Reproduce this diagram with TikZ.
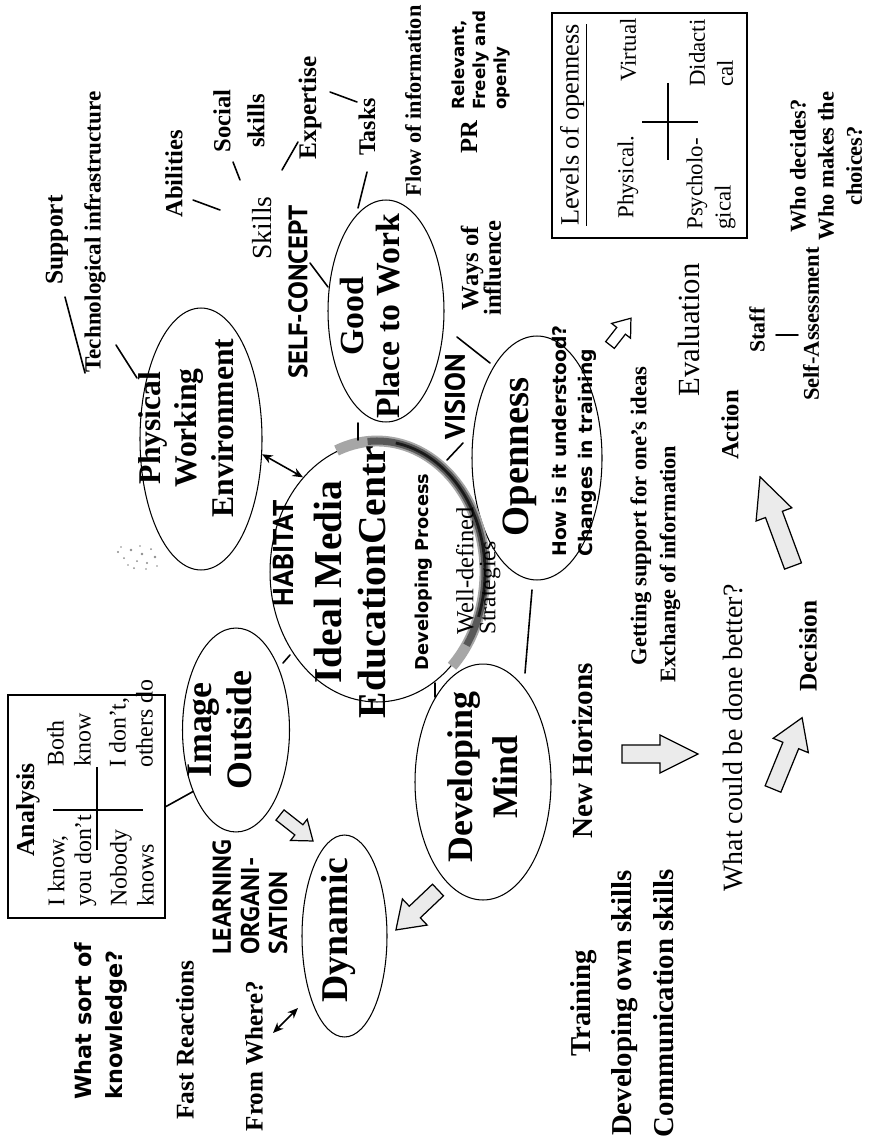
\documentclass[tikz,border=0pt]{standalone}
\usepackage{fontspec}
\setmainfont{Liberation Serif}
\newfontfamily\comicfont{DejaVu Sans}
\newfontfamily\capsfont{PT Sans}
\usetikzlibrary{shapes.geometric,arrows.meta}
\newcommand\fsz[2]{\fontsize{#1pt}{#2pt}\selectfont}
\newcommand\comicb{\comicfont\bfseries}
\newcommand\capsb{\capsfont\bfseries}
\tikzset{
  txt/.style={rotate=90, inner sep=0pt, align=center},
  el/.style={draw, ellipse, inner sep=0pt, line width=0.6pt},
  conn/.style={line width=0.9pt, line cap=round},
  dbl/.style={line width=0.9pt, {Stealth[length=6pt,width=5pt]}-{Stealth[length=6pt,width=5pt]}},
  framebox/.style={draw, line width=1.2pt, inner sep=0pt},
  barrow/.style={draw, line width=0.7pt, fill=black!8, line join=miter},
  speck/.style={fill=black!45, inner sep=0pt},
  pics/fat/.style args={#1/#2/#3/#4}{code={
    \draw[barrow] (0,{-#2/2}) -- ({#1-#4},{-#2/2}) -- ({#1-#4},{-#3/2}) -- (#1,0)
      -- ({#1-#4},{#3/2}) -- ({#1-#4},{#2/2}) -- (0,{#2/2}) -- cycle;}}
}
\begin{document}
\begin{tikzpicture}[x=0.02cm, y=-0.02cm]
\fill[white] (0,0) rectangle (873,1142);
\useasboundingbox (0,0) rectangle (873,1142);

% ---- main ellipses ----
\node[el, minimum width=2.44cm, minimum height=5.24cm] (phys) at (201,439) {};
\node[el, minimum width=2.32cm, minimum height=4.44cm] (good) at (386,311) {};
\node[el, minimum width=2.6cm, minimum height=4.88cm] (open) at (537,458) {};
\node[el, minimum width=4.28cm, minimum height=5.2cm] (central) at (377,572) {};
\node[el, minimum width=2.14cm, minimum height=4.08cm] (imageell) at (236,730) {};
\node[el, minimum width=2.72cm, minimum height=4.72cm] (devmind) at (483,782) {};
\node[el, minimum width=1.7cm, minimum height=4.04cm] (dyn) at (344.5,936) {};

% shaded rim on the centre ellipse
\draw[line width=6.2pt, black!35] plot[domain=-112:46, samples=80] ({377+108*cos(\x)}, {572+131*sin(\x)});
\draw[line width=4pt, black!65] plot[domain=-95:34, samples=80] ({377+108*cos(\x)}, {572+131*sin(\x)});
\draw[line width=1.6pt, black!90] plot[domain=-80:20, samples=60] ({377+108*cos(\x)}, {572+131*sin(\x)});

% small smudge left of the environment ellipse
\foreach \px/\py/\r in {118/552/1.2, 124/558/1, 131/550/1.3, 137/561/1, 142/554/1.4, 147/563/1.1,
  151/549/1, 155/557/1.3, 128/565/0.9, 140/546/0.9, 134/568/1, 146/569/0.8, 121/547/0.8, 157/566/0.9}
  \fill[black!45] (\px,\py) circle [radius=\r];

% ---- boxes ----
\node[framebox, minimum width=3.9cm, minimum height=4.5cm] (levels) at (649.5,125.5) {};
\node[framebox, minimum width=3.14cm, minimum height=4.46cm] (anabox) at (86.5,806.5) {};
\draw[line width=1pt] (642,122) -- (698,122);
\draw[line width=1pt] (668,83) -- (668,160);
\draw[line width=1pt] (53,810) -- (143,810);
\draw[line width=1pt] (97,767) -- (97,850);

% ---- texts (rotated) ----
\node[txt, font=\bfseries\fsz{14.5}{17}] (support) at (57,240) {Support};
\node[txt, font=\bfseries\fsz{13.2}{15}] (tech) at (95,232) {Technological infrastructure};
\node[txt, font=\bfseries\fsz{14}{16}] (abil) at (174,174) {Abilities};
\node[txt, font=\bfseries\fsz{14}{19.3}] (social) at (239,121) {Social\\skills};
\node[txt, font=\fsz{15.7}{18}] (skills) at (262,228) {Skills};
\node[txt, font=\bfseries\fsz{14.4}{17}] (expert) at (310,108) {Expertise};
\node[txt, font=\bfseries\fsz{13.6}{16}] (tasks) at (367,127) {Tasks};
\node[txt, font=\bfseries\fsz{12.7}{15}] (flow) at (413,101) {Flow of information};
\node[txt, font=\capsb\fsz{15.2}{18}] (selfc) at (298,292) {SELF-CONCEPT};
\node[txt, font=\bfseries\fsz{18}{20.7}] (physt) at (186,428) {Physical\\Working\\Environment};
\node[txt, font=\bfseries\fsz{19.2}{21}] (goodt) at (370,316) {Good\\Place to Work};
\node[txt, font=\bfseries\fsz{14}{13}] (ways) at (481,268) {Ways of\\influence};
\node[txt, font=\capsb\fsz{16.1}{19}] (vision) at (455,397) {VISION};
\node[txt, font=\capsb\fsz{16.3}{19}] (habitat) at (283,553) {HABITAT};
\node[txt, font=\bfseries\fsz{22.5}{25.5}] (idealt) at (350,582) {Ideal Media\\EducationCentr};
\node[txt, font=\comicb\fsz{10.1}{12}] (devproc) at (424,572) {Developing Process};
\node[txt, anchor=west, font=\fsz{14}{16}] (welldef) at (465,635) {Well-defined};
\node[txt, anchor=west, font=\fsz{13.4}{16}] (strat) at (490,635) {Strategies};
\node[txt, font=\bfseries\fsz{22}{25}] (opent) at (520,457) {Openness};
\node[txt, anchor=west, align=left, font=\comicb\fsz{10.7}{14.7}] (howis) at (574,557) {How is it understood?\\Changes in training};
\node[txt, font=\bfseries\fsz{20.4}{22.7}] (imaget) at (220,730) {Image\\Outside};
\node[txt, font=\bfseries\fsz{20.4}{25.5}] (devmindt) at (483,777) {Developing\\Mind};
\node[txt, font=\bfseries\fsz{21.5}{24}] (dynt) at (338,930) {Dynamic};
\node[txt, anchor=west, align=left, font=\capsb\fsz{14.7}{16}] (learn) at (250,955) {LEARNING\\ORGANI-\\SATION};
\node[txt, anchor=west, align=left, font=\comicb\fsz{12.7}{17.6}] (whatsort) at (101,1100) {What sort of\\knowledge?};
\node[txt, font=\bfseries\fsz{14.5}{17}] (fast) at (185,1040) {Fast Reactions};
\node[txt, font=\bfseries\fsz{14.3}{17}] (fromwhere) at (254,1056) {From Where?};
\node[txt, font=\bfseries\fsz{16.6}{19}] (newhor) at (583,751) {New Horizons};
\node[txt, font=\bfseries\fsz{16.4}{23.8}] (training) at (622,1003) {Training\\Developing own skills\\Communication skills};
\node[txt, font=\bfseries\fsz{12.9}{15}] (getsup) at (641,516) {Getting support for one’s ideas};
\node[txt, font=\bfseries\fsz{12.7}{15}] (exch) at (670,564) {Exchange of information};
\node[txt, font=\fsz{17.5}{20}] (eval) at (689,330) {Evaluation};
\node[txt, font=\bfseries\fsz{14}{16}] (action) at (730,425) {Action};
\node[txt, font=\fsz{15.9}{18}] (whatcould) at (733,738) {What could be done better?};
\node[txt, font=\bfseries\fsz{14.4}{17}] (decision) at (808,646) {Decision};
\node[txt, font=\bfseries\fsz{12.4}{15}] (staff) at (757,330) {Staff};
\node[txt, font=\bfseries\fsz{12.8}{15}] (selfass) at (811,324) {Self-Assessment};
\node[txt, font=\bfseries\fsz{12.8}{16}] (who) at (826,166) {Who decides?\\Who makes the\\choices?};
\node[txt, font=\bfseries\fsz{14}{16}] (pr) at (469,137) {PR};
\node[txt, anchor=west, align=left, font=\comicb\fsz{9.5}{12}] (relev) at (481,110) {Relevant,\\Freely and\\openly};

% box contents
\node[txt, font=\fsz{15}{17}] (levt) at (574,125) {\underline{Levels of openness}};
\node[txt, font=\fsz{13}{15}] (physl) at (628,177) {Physical.};
\node[txt, font=\fsz{13}{15}] (virt) at (628,50) {Virtual};
\node[txt, anchor=west, align=left, font=\fsz{13}{16}] (psy) at (711,230) {Psycholo-\\gical};
\node[txt, anchor=west, align=left, font=\fsz{13}{16}] (dida) at (711,87) {Didacti\\cal};
\node[txt, font=\bfseries\fsz{14.7}{17}] (anat) at (28,810) {Analysis};
\node[txt, anchor=west, align=left, font=\fsz{13.6}{15.3}] (cella) at (72,907) {I know,\\you don’t};
\node[txt, anchor=west, align=left, font=\fsz{13.6}{15.3}] (cellb) at (69,767) {Both\\know};
\node[txt, anchor=west, align=left, font=\fsz{13.6}{15.3}] (cellc) at (132,907) {Nobody\\knows};
\node[txt, anchor=west, align=left, font=\fsz{13.6}{15.3}] (celld) at (131,768) {I don’t,\\others do};

% ---- short link strokes ----
\coordinate (s1) at (65,297);   \coordinate (s2) at (85,373);
\coordinate (t1) at (116,345);  \coordinate (t2) at (137,378);
\coordinate (a1) at (193,200);  \coordinate (a2) at (220,210);
\coordinate (so1) at (233,162); \coordinate (so2) at (240,180);
\coordinate (e1) at (282,170);  \coordinate (e2) at (298,142);
\coordinate (x1) at (330,92);   \coordinate (x2) at (357,102);
\coordinate (k1) at (367,172);  \coordinate (k2) at (358,208);
\coordinate (sc1) at (310,263); \coordinate (sc2) at (328,287);
\coordinate (g1) at (358,423);  \coordinate (g2) at (358,440);
\coordinate (v1) at (447,460);  \coordinate (v2) at (463,443);
\coordinate (w1) at (457,337);  \coordinate (w2) at (490,363);
\coordinate (m1) at (532,590);  \coordinate (m2) at (525,673);
\coordinate (d1) at (435,683);  \coordinate (d2) at (435,697);
\coordinate (i1) at (283,663);  \coordinate (i2) at (290,655);
\coordinate (st1) at (776,335); \coordinate (st2) at (798,335);
\coordinate (fw1) at (273,1033); \coordinate (fw2) at (298,1008);

\draw[conn] (s1) -- (s2);
\draw[conn] (t1) -- (t2);
\draw[conn] (a1) -- (a2);
\draw[conn] (so1) -- (so2);
\draw[conn] (e1) -- (e2);
\draw[conn] (x1) -- (x2);
\draw[conn] (k1) -- (k2);
\draw[conn] (sc1) -- (sc2);
\draw[conn] (g1) -- (g2);
\draw[conn] (v1) -- (v2);
\draw[conn] (w1) -- (w2);
\draw[conn] (m1) -- (m2);
\draw[conn] (d1) -- (d2);
\draw[conn] (i1) -- (i2);
\draw[conn] (st1) -- (st2);
\draw[conn] (anabox.east) -- (imageell.235);

% double arrows
\draw[dbl] (phys.-14) -- (central.128);
\draw[dbl] (fw1) -- (fw2);

% ---- block arrows ----
\coordinate (b1) at (280,815);
\coordinate (b2) at (438,890);
\coordinate (b3) at (622,754);
\coordinate (b4) at (773,789);
\coordinate (b5) at (793,566);
\coordinate (b6) at (610,345);
\pic[rotate=-38.2] at (b1) {fat=42/13/27/18};
\pic[rotate=223.5] at (b2) {fat=58/16/36/26};
\pic at (b3) {fat=76/18/38/38};
\pic[rotate=67.8] at (b4) {fat=77/17/38/30};
\pic[rotate=110.3] at (b5) {fat=95/18/38/40};
\pic[rotate=52, barrow/.append style={fill=white}] at (b6) {fat=34/11/24/16};
\end{tikzpicture}
\end{document}
